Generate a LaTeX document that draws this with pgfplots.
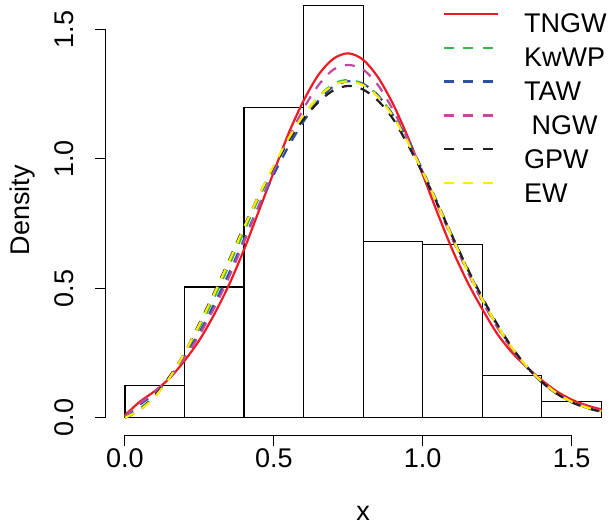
\documentclass[border=0pt]{standalone}
\usepackage{fontspec}
\setmainfont{Liberation Sans}
\usepackage{pgfplots}
\usepackage{pgfplotstable}
\pgfplotsset{compat=1.18}
\definecolor{cR}{RGB}{237,28,36}
\definecolor{cG}{RGB}{57,181,74}
\definecolor{cB}{RGB}{46,80,165}
\definecolor{cM}{RGB}{190,75,160}
\definecolor{cK}{RGB}{35,31,32}
\definecolor{cY}{RGB}{255,237,0}
\pgfplotstableread{
x    tngw  kwwp  taw   ngw   gpw   ew
0.00 0.010 0.000 0.005 0.005 0.000 0.000
0.05 0.062 0.035 0.050 0.055 0.030 0.030
0.10 0.103 0.085 0.095 0.100 0.085 0.080
0.15 0.153 0.155 0.155 0.155 0.160 0.155
0.20 0.220 0.245 0.235 0.230 0.250 0.250
0.25 0.300 0.350 0.330 0.320 0.365 0.360
0.30 0.400 0.465 0.440 0.425 0.485 0.480
0.35 0.515 0.590 0.560 0.545 0.610 0.605
0.40 0.650 0.720 0.690 0.680 0.740 0.735
0.45 0.800 0.850 0.820 0.820 0.860 0.860
0.50 0.950 0.965 0.940 0.955 0.970 0.975
0.55 1.100 1.070 1.050 1.080 1.070 1.080
0.60 1.225 1.165 1.145 1.195 1.155 1.170
0.65 1.325 1.240 1.225 1.285 1.220 1.240
0.70 1.387 1.290 1.280 1.345 1.265 1.285
0.75 1.408 1.305 1.300 1.363 1.282 1.300
0.80 1.383 1.290 1.290 1.345 1.268 1.285
0.85 1.315 1.245 1.245 1.285 1.225 1.240
0.90 1.213 1.170 1.170 1.190 1.155 1.165
0.95 1.085 1.070 1.075 1.075 1.055 1.065
1.00 0.940 0.950 0.955 0.950 0.945 0.950
1.05 0.790 0.825 0.830 0.820 0.825 0.825
1.10 0.648 0.695 0.700 0.690 0.700 0.695
1.15 0.525 0.570 0.575 0.565 0.578 0.570
1.20 0.420 0.455 0.460 0.450 0.465 0.457
1.25 0.325 0.355 0.357 0.350 0.362 0.357
1.30 0.252 0.268 0.268 0.265 0.272 0.270
1.35 0.195 0.195 0.195 0.195 0.197 0.197
1.40 0.145 0.138 0.137 0.138 0.138 0.140
1.45 0.102 0.094 0.093 0.095 0.093 0.095
1.50 0.070 0.062 0.061 0.063 0.060 0.062
1.55 0.048 0.040 0.039 0.041 0.038 0.040
1.60 0.032 0.025 0.025 0.026 0.023 0.025
}\dens
\pgfplotstableread{
left height
0.0 0.125
0.2 0.505
0.4 1.199
0.6 1.592
0.8 0.682
1.0 0.669
1.2 0.162
1.4 0.062
1.6 0.062
}\hist
\begin{document}
\fontsize{13.5}{16}\selectfont
\begin{tikzpicture}
\path[use as bounding box] (-53pt,-46pt) rectangle (251.5pt,217.5pt);
\begin{axis}[
  at={(0,0)}, anchor=south west,
  width=251.5pt, height=217.5pt, scale only axis,
  xmin=-0.0638, xmax=1.6258, ymin=-0.0668, ymax=1.614,
  clip=false,
  axis line style={draw=none},
  xtick={0,0.5,1,1.5}, xticklabels={0.0,0.5,1.0,1.5},
  ytick={0,0.5,1,1.5}, yticklabels={0.0,0.5,1.0,1.5},
  xtick pos=lower, ytick pos=left,
  tick align=outside, major tick length=5.5pt,
  tick style={black, line width=0.5pt},
  tick label style={font=\fontsize{13.5}{16}\selectfont, inner sep=0pt},
  xticklabel style={anchor=north},
  yticklabel style={rotate=90, anchor=south},
  xticklabel shift=1.25pt,
  yticklabel shift=10.5pt,
  xlabel={x}, ylabel={Density},
  label style={font=\fontsize{13.5}{16}\selectfont, inner sep=0pt},
  xlabel style={at={(axis description cs:0.511,-0.179)}, anchor=center},
  ylabel style={at={(axis description cs:-0.165,0.517)}, anchor=center, rotate=0},
  legend cell align=left,
  legend style={at={(axis description cs:0.670,0.971)}, anchor=north west,
    draw=none, fill=none, inner sep=0pt, outer sep=0pt, row sep=6.9pt,
    nodes={inner sep=0pt, text height=9.5pt, text depth=0pt, font=\fontsize{13.5}{16}\selectfont},
    /tikz/every odd column/.append style={column sep=12.5pt}},
  legend image code/.code={\draw[#1] (0pt,4.75pt) -- (27pt,4.75pt);},
  every axis plot/.append style={line width=1.1pt},
  dashstyle/.style={dash pattern=on 5pt off 4.6pt},
]
\addplot[ybar interval, draw=black, fill=white, line width=0.6pt, forget plot] table[x=left, y=height] {\hist};
\addplot[cR, smooth] table[x=x, y=tngw] {\dens};
\addlegendentry{TNGW}
\addplot[cG, smooth, dashstyle] table[x=x, y=kwwp] {\dens};
\addlegendentry{KwWP}
\addplot[cB, smooth, dashstyle] table[x=x, y=taw] {\dens};
\addlegendentry{TAW}
\addplot[cM, smooth, dashstyle] table[x=x, y=ngw] {\dens};
\addlegendentry{\ NGW}
\addplot[cK, smooth, dashstyle] table[x=x, y=gpw] {\dens};
\addlegendentry{GPW}
\addplot[cY, smooth, dashstyle] table[x=x, y=ew] {\dens};
\addlegendentry{EW}
\draw[line width=0.5pt, black] (axis cs:0,-0.0668) -- (axis cs:1.5,-0.0668);
\draw[line width=0.5pt, black] (axis cs:-0.0638,0) -- (axis cs:-0.0638,1.5);
\end{axis}
\end{tikzpicture}
\end{document}
